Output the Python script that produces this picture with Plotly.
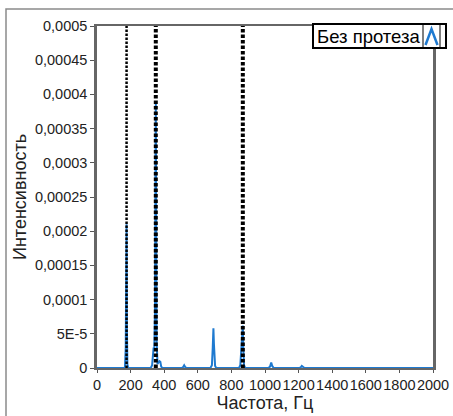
import plotly.graph_objects as go

# Spectrum "Без протеза"
freq = [0, 150, 166, 171, 174, 176, 178, 181, 186, 200,
        320, 328, 333, 337, 341, 345, 348, 350, 352, 355, 360, 366, 372, 377, 382, 390, 400,
        505, 513, 519, 525, 533,
        675, 684, 689, 693, 696, 699, 703, 710,
        845, 853, 858, 862, 865, 868, 871, 875, 882,
        1020, 1030, 1037, 1043, 1052,
        1205, 1213, 1219, 1226, 1235,
        2000]
intensity = [0, 0, 0, 0.00003, 0.0002, 0.00021, 0.00006, 0.000005, 0, 0,
             0, 0.000004, 0.000015, 0.00003, 0.000028, 0.00008, 0.0003, 0.00039, 0.00025, 0.00004, 0.000006, 0.000008, 0.00001, 0.000009, 0.000002, 0, 0,
             0, 0.0000015, 0.000004, 0.0000015, 0,
             0, 0.000004, 0.00003, 0.000058, 0.000035, 0.00002, 0.000003, 0,
             0, 0.000004, 0.000025, 0.000042, 0.00006, 0.000062, 0.00003, 0.000004, 0,
             0, 0.000002, 0.000008, 0.000003, 0,
             0, 0.000001, 0.000003, 0.000001, 0,
             0]

# Vertical dotted marker lines (Hz)
marker_freqs = [176, 350, 868]
marker_widths = [2.5, 4, 4]
marker_dash = ["2.5px,1.5px", "3.5px,2px", "3.5px,2px"]

x_ticks = list(range(0, 2001, 200))
y_tickvals = [0, 0.00005, 0.0001, 0.00015, 0.0002, 0.00025, 0.0003, 0.00035, 0.0004, 0.00045, 0.0005]
y_ticktext = ["0", "5E-5", "0,0001", "0,00015", "0,0002", "0,00025", "0,0003",
              "0,00035", "0,0004", "0,00045", "0,0005"]

fig = go.Figure()
fig.add_trace(go.Scatter(x=freq, y=intensity, mode="lines",
                         line=dict(color="#1f7ad0", width=2), name="Без протеза",
                         showlegend=False))
for f, w, d in zip(marker_freqs, marker_widths, marker_dash):
    fig.add_trace(go.Scatter(x=[f, f], y=[0, 0.0005], mode="lines",
                             line=dict(color="black", width=w, dash=d),
                             showlegend=False, hoverinfo="skip"))

W, H = 453, 416
L, R, T, B = 97, 20, 26, 48
pw, ph = W - L - R, H - T - B


def px(x):
    return (x - L) / pw


def py(y):
    return (H - B - y) / ph


shapes = [
    # outer figure frame
    dict(type="rect", xref="paper", yref="paper", x0=px(6), x1=px(470), y0=py(9), y1=py(440),
         line=dict(color="#8a8a8a", width=1.5), layer="below"),
    # legend box
    dict(type="rect", xref="paper", yref="paper", x0=px(313), x1=px(446), y0=py(24), y1=py(48),
         line=dict(color="black", width=2), fillcolor="white", layer="above"),
    dict(type="line", xref="paper", yref="paper", x0=px(423), x1=px(423), y0=py(24), y1=py(48),
         line=dict(color="black", width=1)),
    dict(type="line", xref="paper", yref="paper", x0=px(440), x1=px(440), y0=py(24), y1=py(48),
         line=dict(color="black", width=1)),
    dict(type="path", xref="paper", yref="paper",
         path=f"M {px(425.5)} {py(45)} L {px(431.5)} {py(29)} L {px(437.5)} {py(45)}",
         line=dict(color="#1f7ad0", width=2.5)),
]

fig.update_layout(
    width=W, height=H,
    margin=dict(l=L, r=R, t=T, b=B),
    paper_bgcolor="white", plot_bgcolor="white",
    font=dict(family="Liberation Sans, Arial, sans-serif", color="#222", size=14.5),
    showlegend=False,
    shapes=shapes,
    annotations=[
        dict(text="Без протеза", xref="paper", yref="paper", x=px(315), y=py(36.5),
             xanchor="left", yanchor="middle", showarrow=False,
             font=dict(size=18.5, color="black")),
    ],
    xaxis=dict(range=[0, 2000], tickvals=x_ticks, ticks="outside", ticklen=3,
               tickangle=0,
               tickcolor="#555", showgrid=False, zeroline=False, automargin=False,
               showline=True, linecolor="#666", linewidth=2, mirror=True,
               tickfont=dict(size=14.5, color="#222"),
               title=dict(text="Частота, Гц", font=dict(size=18, color="#222"), standoff=2)),
    yaxis=dict(range=[0, 0.0005], tickvals=y_tickvals, ticktext=y_ticktext,
               ticks="outside", ticklen=4, tickcolor="#555", showgrid=False, zeroline=False,
               automargin=False,
               showline=True, linecolor="#666", linewidth=2.5, mirror=True,
               tickfont=dict(size=14.5, color="#222"),
               title=dict(text="Интенсивность", font=dict(size=18, color="#222"), standoff=4)),
)

fig.write_html("out.html")
